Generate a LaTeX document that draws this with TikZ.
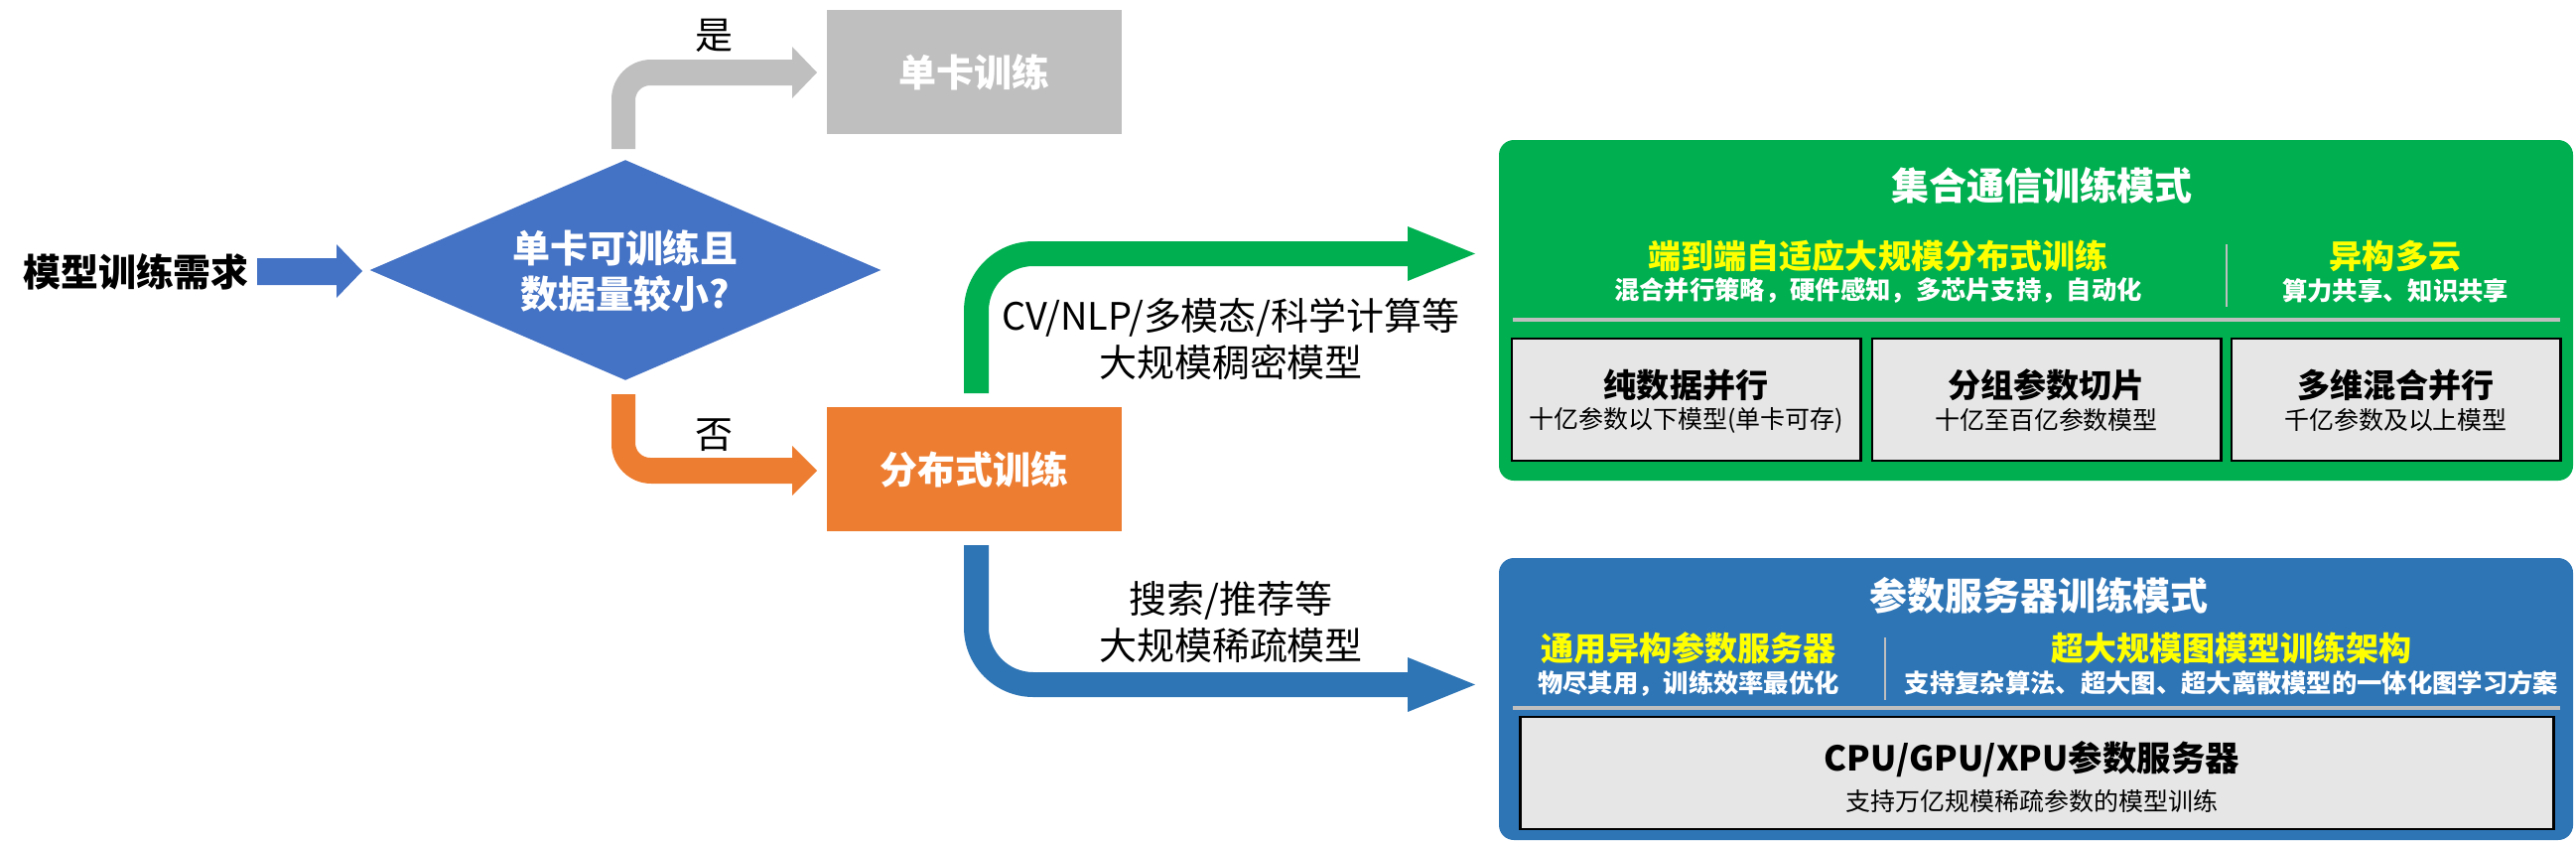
\documentclass[tikz,border=0pt]{standalone}
\usepackage{fontspec}
\setmainfont{Noto Sans CJK SC}
\usetikzlibrary{shapes.geometric}
\definecolor{cgray}{HTML}{BFBFBF}
\definecolor{cdia}{HTML}{4472C4}
\definecolor{corange}{HTML}{ED7D31}
\definecolor{cgreen}{HTML}{00B050}
\definecolor{cblue}{HTML}{2E75B6}
\definecolor{cyel}{HTML}{FFFF00}
\definecolor{clight}{HTML}{E6E6E6}
\definecolor{csep}{HTML}{BFBFBF}
\tikzset{
  bigb/.style={font=\fontsize{10.8}{13}\selectfont\bfseries, inner sep=0pt},
  lbl/.style={font=\fontsize{10.8}{13}\selectfont, text=black, inner sep=0pt},
  ylw/.style={font=\fontsize{9.4}{11}\selectfont\bfseries, text=cyel, inner sep=0pt},
  wsub/.style={font=\fontsize{7.2}{9}\selectfont\bfseries, text=white, inner sep=0pt},
  btitle/.style={font=\fontsize{9.4}{11}\selectfont\bfseries, text=black, inner sep=0pt},
  bsub/.style={font=\fontsize{7.1}{9}\selectfont, text=black, inner sep=0pt},
  flatbox/.style={rectangle, inner sep=0pt},
  cardbox/.style={rectangle, fill=clight, draw=black, line width=0.8pt, inner sep=0pt},
  panel/.style={rounded corners=0.15cm},
  sepline/.style={draw=csep, line width=0.9pt},
}
\begin{document}
\begin{tikzpicture}[x=0.01cm,y=-0.01cm]
\useasboundingbox (0,0) rectangle (2595,848);

% left input
\node[bigb, text=black] (req) at (137,274) {模型训练需求};
\fill[cdia] (259,260) -- (339,260) -- (339,246) -- (365,273) -- (339,300) -- (339,287) -- (259,287) -- cycle;

% decision diamond
\node[diamond, fill=cdia, aspect=2.32, inner sep=0pt, minimum width=5.15cm, minimum height=2.22cm] (dia) at (630,272) {};
\node[bigb, text=white] (dia1) at (630,250) {单卡可训练且};
\node[bigb, text=white] (dia2) at (630,296) {数据量较小?};

% single-card box
\node[flatbox, fill=cgray, minimum width=2.97cm, minimum height=1.25cm, bigb, text=white] (single) at (981.5,72.5) {单卡训练};
% distributed box
\node[flatbox, fill=corange, minimum width=2.97cm, minimum height=1.25cm, bigb, text=white] (dist) at (981.5,472.5) {分布式训练};

% gray bent arrow (yes)
\fill[cgray] (616,150) -- (616,100) .. controls (616,77.9) and (633.9,60) .. (656,60) -- (798,60) -- (798,47) -- (823,73) -- (798,99) -- (798,86) -- (655,86) .. controls (646.7,86) and (640,92.7) .. (640,101) -- (640,150) -- cycle;
\node[lbl] (yes) at (719,36) {是};

% orange bent arrow (no)
\fill[corange] (616,397) -- (616,447) .. controls (616,469.1) and (633.9,487) .. (656,487) -- (798,487) -- (798,499) -- (823,474) -- (798,449) -- (798,461) -- (655,461) .. controls (646.7,461) and (640,454.3) .. (640,446) -- (640,397) -- cycle;
\node[lbl] (no) at (719,438) {否};

% green bent arrow
\fill[cgreen] (971,396) -- (971,313) .. controls (971,274.3) and (1002.3,243) .. (1041,243) -- (1418,243) -- (1418,228) -- (1486,255.5) -- (1418,283) -- (1418,268) -- (1041,268) .. controls (1016.1,268) and (996,288.1) .. (996,313) -- (996,396) -- cycle;
\node[lbl] (dense1) at (1240,320) {CV/NLP/多模态/科学计算等};
\node[lbl] (dense2) at (1240,365) {大规模稠密模型};

% blue bent arrow
\fill[cblue] (971,549) -- (971,632) .. controls (971,670.7) and (1002.3,702) .. (1041,702) -- (1418,702) -- (1418,717) -- (1486,689.5) -- (1418,662) -- (1418,677) -- (1041,677) .. controls (1016.1,677) and (996,656.9) .. (996,632) -- (996,549) -- cycle;
\node[lbl] (sparse1) at (1240,605) {搜索/推荐等};
\node[lbl] (sparse2) at (1240,650) {大规模稀疏模型};

% green panel
\fill[cgreen, panel] (1510,141) rectangle (2592,484);
\node[bigb, text=white] (gtitle) at (2057,187) {集合通信训练模式};
\node[ylw] (g1) at (1892,258) {端到端自适应大规模分布式训练};
\node[wsub] (g1s) at (1892,293) {混合并行策略，硬件感知，多芯片支持，自动化};
\node[ylw] (g2) at (2413,258) {异构多云};
\node[wsub] (g2s) at (2413,293) {算力共享、知识共享};
\draw[sepline, line width=0.6pt] (2243,246) -- (2243,309);
\draw[sepline] (1524,322) -- (2579,322);
\node[cardbox, minimum width=3.51cm, minimum height=1.23cm] (c1) at (1698.5,402.5) {};
\node[cardbox, minimum width=3.51cm, minimum height=1.23cm] (c2) at (2061.5,402.5) {};
\node[cardbox, minimum width=3.31cm, minimum height=1.23cm] (c3) at (2413.5,402.5) {};
\node[btitle] at (1698.5,388) {纯数据并行};
\node[bsub] at (1698.5,423) {十亿参数以下模型(单卡可存)};
\node[btitle] at (2061.5,388) {分组参数切片};
\node[bsub] at (2061.5,423) {十亿至百亿参数模型};
\node[btitle] at (2413.5,388) {多维混合并行};
\node[bsub] at (2413.5,423) {千亿参数及以上模型};

% blue panel
\fill[cblue, panel] (1510,562) rectangle (2592,846);
\node[bigb, text=white] (btitle) at (2054,600) {参数服务器训练模式};
\node[ylw] (b1) at (1701,653) {通用异构参数服务器};
\node[wsub] (b1s) at (1701,688) {物尽其用，训练效率最优化};
\node[ylw] (b2) at (2248,653) {超大规模图模型训练架构};
\node[wsub] (b2s) at (2248,688) {支持复杂算法、超大图、超大离散模型的一体化图学习方案};
\draw[sepline, line width=0.6pt] (1899,642) -- (1899,705);
\draw[sepline] (1524,713) -- (2579,713);
\node[cardbox, minimum width=10.4cm, minimum height=1.13cm] (ps) at (2052,778.5) {};
\node[btitle, font=\fontsize{9.8}{12}\selectfont\bfseries] at (2047,765) {CPU/GPU/XPU参数服务器};
\node[bsub] at (2047,807) {支持万亿规模稀疏参数的模型训练};
\end{tikzpicture}
\end{document}
